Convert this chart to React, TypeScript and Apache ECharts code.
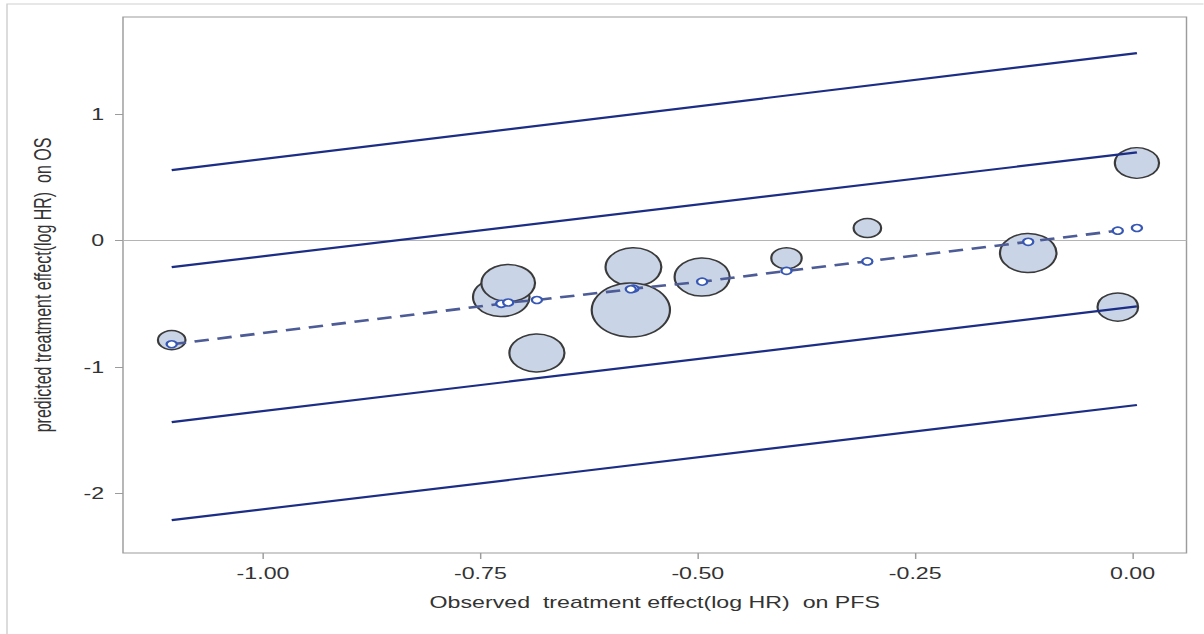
import React, { useEffect, useRef } from "react";
import * as echarts from "echarts";

// ---- data ----
const studyPFS = [-1.105, -0.726, -0.718, -0.685, -0.574, -0.577, -0.495, -0.398, -0.305, -0.12, -0.017, 0.005];
const observedOS = [-0.787, -0.447, -0.336, -0.889, -0.21, -0.549, -0.289, -0.14, 0.099, -0.099, -0.526, 0.613];
const predictedOS = [-0.82, -0.5, -0.49, -0.47, -0.38, -0.385, -0.325, -0.24, -0.165, -0.01, 0.078, 0.099];
const studyWeight = [19, 39, 37, 38, 38.5, 54, 38, 21, 19, 39, 28, 30.5];

const bandX = [-1.105, 0.005];
const upperOuter = [0.557, 1.482];
const upperInner = [-0.21, 0.697];
const lowerInner = [-1.435, -0.52];
const lowerOuter = [-2.21, -1.3];

const xTicks = [-1, -0.75, -0.5, -0.25, 0];
const yTicks = [-2, -1, 0, 1];
const xTitle = "Observed  treatment effect(log HR)  on PFS";
const yTitle = "predicted treatment effect(log HR)  on OS";

const S = 1.45; // horizontal stretch of the original picture
const W = 1204;
const H = 634;
const FONT = "'Liberation Sans', Arial, sans-serif";

export default function App() {
  const ref = useRef<HTMLDivElement>(null);
  useEffect(() => {
    if (!ref.current) return;
    const chart = echarts.init(ref.current, undefined, { renderer: "svg" });
    const bubbles = studyPFS.map((x, i) => [x, observedOS[i], studyWeight[i]]);
    const preds = studyPFS.map((x, i) => [x, predictedOS[i]]);
    const predLine = [...preds].sort((a, b) => a[0] - b[0]);
    const band = (ys: number[]) => bandX.map((x, i) => [x, ys[i]]);
    const solid = (name: string, ys: number[]) => ({
      name,
      type: "line",
      data: band(ys),
      symbol: "none",
      lineStyle: { color: "#1c2d85", width: 2.2 },
      z: 3,
    });
    chart.setOption({
      animation: false,
      backgroundColor: "#fff",
      graphic: [
        {
          type: "rect",
          shape: { x: 7 / S, y: 4, width: W, height: H + 20 },
          style: { fill: "none", stroke: "#cfcfcf", lineWidth: 1 },
          silent: true,
        },
      ],
      grid: {
        left: 123 / S,
        right: 17 / S,
        top: 17,
        bottom: 81,
        show: true,
        borderColor: "#9c9c9c",
        borderWidth: 1,
        backgroundColor: "transparent",
      },
      xAxis: {
        type: "value",
        min: -1.161,
        max: 0.062,
        axisLine: { show: false, onZero: false },
        splitLine: { show: false },
        axisTick: { show: true, customValues: xTicks, length: 6, lineStyle: { color: "#9c9c9c" } },
        axisLabel: {
          customValues: xTicks,
          formatter: (v: number) => v.toFixed(2),
          fontSize: 16,
          color: "#333",
          margin: 12,
          fontFamily: FONT,
        },
        name: xTitle,
        nameLocation: "middle",
        nameGap: 41,
        nameTextStyle: { fontSize: 16, color: "#333", fontFamily: FONT },
      },
      yAxis: {
        type: "value",
        min: -2.47,
        max: 1.767,
        axisLine: { show: false, onZero: false },
        splitLine: { show: false },
        axisTick: { show: true, customValues: yTicks, length: 5.5, lineStyle: { color: "#9c9c9c" } },
        axisLabel: {
          customValues: yTicks,
          formatter: (v: number) => String(v),
          fontSize: 16,
          color: "#333",
          margin: 13,
          fontFamily: FONT,
        },
        name: yTitle,
        nameLocation: "middle",
        nameGap: 47,
        nameTextStyle: { fontSize: 16, color: "#333", fontFamily: FONT },
      },
      series: [
        {
          name: "observed",
          type: "scatter",
          data: bubbles,
          symbol: "circle",
          symbolSize: (v: number[]) => v[2],
          itemStyle: { color: "#c9d4e6", borderColor: "#3a3a3a", borderWidth: 1.5, opacity: 1 },
          z: 2,
          markLine: {
            silent: true,
            symbol: ["none", "none"],
            label: { show: false },
            lineStyle: { color: "#b4b4b4", width: 1, type: "solid" },
            data: [{ yAxis: 0 }],
            z: 1,
          },
        },
        solid("upperOuter", upperOuter),
        solid("upperInner", upperInner),
        solid("lowerInner", lowerInner),
        solid("lowerOuter", lowerOuter),
        {
          name: "fit",
          type: "line",
          data: predLine,
          symbol: "none",
          lineStyle: { color: "#4d5c96", width: 2.6, type: [10, 6] },
          z: 4,
        },
        {
          name: "predicted",
          type: "scatter",
          data: preds,
          symbol: "circle",
          symbolSize: 7,
          itemStyle: { color: "#ffffff", borderColor: "#3757b5", borderWidth: 1.6, opacity: 1 },
          z: 5,
        },
      ],
    });
    return () => chart.dispose();
  }, []);
  return (
    <div
      style={{
        position: "absolute",
        left: 0,
        top: 0,
        width: W,
        height: H,
        overflow: "hidden",
        background: "#fff",
      }}
    >
      <div
        ref={ref}
        style={{
          width: W / S,
          height: H,
          transform: `scaleX(${S})`,
          transformOrigin: "0 0",
        }}
      />
    </div>
  );
}
